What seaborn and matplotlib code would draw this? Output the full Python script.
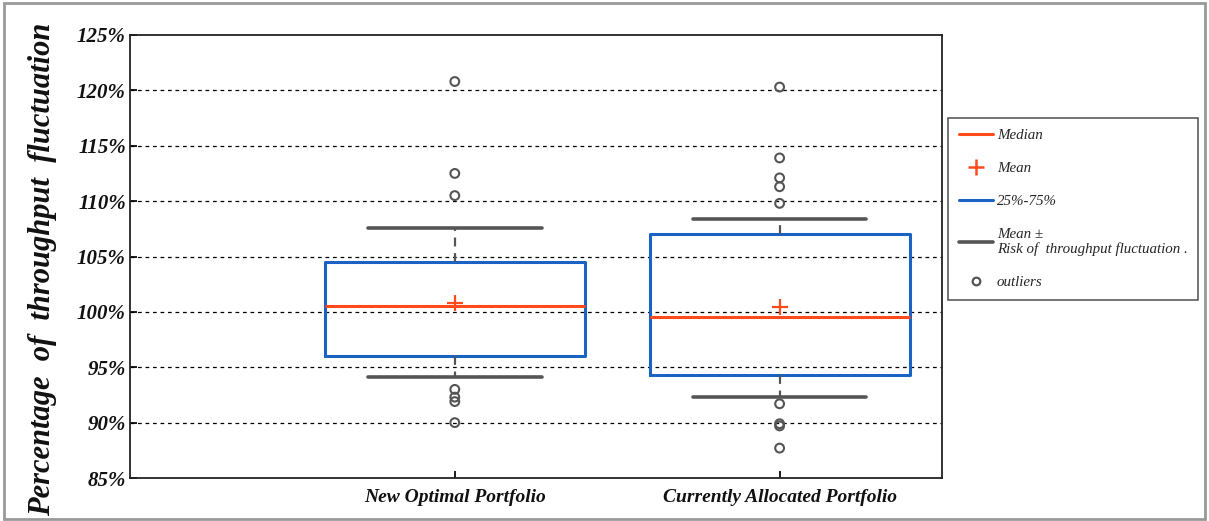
import numpy as np
import pandas as pd
import matplotlib
matplotlib.use("Agg")
import matplotlib.pyplot as plt
from matplotlib.lines import Line2D
from matplotlib.patches import Rectangle
import seaborn as sns

# ---- data ----
categories = ["New Optimal Portfolio", "Currently Allocated Portfolio"]
whisker_low = [94.1, 92.3]
q1 = [96.0, 94.3]
median = [100.5, 99.55]
q3 = [104.5, 107.0]
whisker_high = [107.6, 108.4]
means = [100.8, 100.45]
outliers_new = [120.8, 112.5, 110.5, 93.0, 92.3, 91.9, 90.0]
outliers_cur = [120.3, 113.9, 112.1, 111.3, 109.8, 91.7, 89.9, 89.7, 87.7]
y_ticks = [85, 90, 95, 100, 105, 110, 115, 120, 125]

sns.set_theme(style="white")
plt.rcParams["font.family"] = ["Liberation Serif", "DejaVu Serif"]

MED_C = "#ff4a1c"
BOX_C = "#1a62c4"
WHI_C = "#555555"

# five-number summaries as data (percentiles of 5 points give exactly q1/median/q3, whis=(0,100) -> whiskers)
rows = []
for i, c in enumerate(categories):
    for v in [whisker_low[i], q1[i], median[i], q3[i], whisker_high[i]]:
        rows.append({"group": c, "value": v})
box_df = pd.DataFrame(rows)

fig = plt.figure(figsize=(12.09, 5.21), dpi=100)
ax = fig.add_axes([130 / 1209, 1 - 478 / 521, (942 - 130) / 1209, (478 - 35) / 521])

# grid first
ax.set_ylim(85, 125)
ax.set_yticks(y_ticks)
for t in y_ticks[1:-1]:
    ax.axhline(t, color="black", lw=0.9, ls=(0, (3, 3)), zorder=0)

sns.boxplot(data=box_df, x="group", y="value", order=categories, ax=ax,
            whis=(0, 100), fill=False, width=0.8, linewidth=2,
            capwidths=0.535,
            boxprops=dict(color=BOX_C, linewidth=2.2),
            medianprops=dict(color=MED_C, linewidth=2.2),
            whiskerprops=dict(color=WHI_C, linewidth=1.6, linestyle=(0, (4, 3))),
            capprops=dict(color=WHI_C, linewidth=2.6),
            showfliers=False, zorder=3)

# outliers
out_df = pd.DataFrame({
    "pos": [0] * len(outliers_new) + [1] * len(outliers_cur),
    "value": outliers_new + outliers_cur,
})
sns.scatterplot(data=out_df, x="pos", y="value", ax=ax, marker="o", s=40,
                facecolors="none", edgecolor=WHI_C, linewidth=1.5, zorder=4, legend=False)

# means
mean_df = pd.DataFrame({"pos": [0, 1], "value": means})
sns.scatterplot(data=mean_df, x="pos", y="value", ax=ax, marker="+", s=130,
                color=MED_C, linewidth=1.6, zorder=5, legend=False)

ax.set_xlim(-1, 1.5)
ax.set_ylim(85, 125)
ax.set_xticks([0, 1])
ax.set_xticklabels(categories)
ax.set_yticks(y_ticks)
ax.set_yticklabels([f"{t}%" for t in y_ticks])
ax.set_xlabel("")
ax.set_ylabel("Percentage  of  throughput  fluctuation", fontsize=22)
ax.yaxis.label.set_fontweight("bold")
ax.yaxis.label.set_fontstyle("italic")
ax.yaxis.label.set_color("#111111")
ax.yaxis.set_label_coords(-0.09, 0.47)
for lab in ax.get_xticklabels() + ax.get_yticklabels():
    lab.set_fontweight("bold")
    lab.set_fontstyle("italic")
    lab.set_color("#111111")
for lab in ax.get_yticklabels():
    lab.set_fontsize(15)
for lab in ax.get_xticklabels():
    lab.set_fontsize(14)
ax.tick_params(axis="y", direction="in", length=5, pad=3, left=True, color="black")
ax.tick_params(axis="x", direction="in", length=5, pad=8, bottom=True, color="black")
for s in ax.spines.values():
    s.set_color("#222222")
    s.set_linewidth(1.3)
    s.set_visible(True)

# legend
handles = [
    Line2D([], [], color=MED_C, lw=2.2),
    Line2D([], [], color=MED_C, marker="+", ls="none", markersize=11, markeredgewidth=1.8),
    Line2D([], [], color=BOX_C, lw=2.2),
    Line2D([], [], color=WHI_C, lw=2.6),
    Line2D([], [], color=WHI_C, marker="o", ls="none", markersize=5.5,
           markerfacecolor="none", markeredgewidth=1.6),
]
labels = ["Median", "Mean", "25%-75%", "Mean ±\nRisk of  throughput fluctuation .", "outliers"]
leg = fig.legend(handles, labels, loc="upper left",
                 bbox_to_anchor=(948 / 1209, 1 - 118 / 521),
                 frameon=True, fancybox=False, handlelength=2.3, handletextpad=0.25,
                 labelspacing=1.3, borderpad=0.7, borderaxespad=0,
                 prop=dict(family="Liberation Serif", style="italic", size=10.8))
leg.get_frame().set_edgecolor("#333333")
leg.get_frame().set_linewidth(1.2)

# figure border
fig.add_artist(Rectangle((4 / 1209, 2 / 521), 1 - 8 / 1209, 1 - 5 / 521,
                         transform=fig.transFigure, fill=False,
                         edgecolor="#999999", lw=2))

fig.savefig("out.png", dpi=100)
